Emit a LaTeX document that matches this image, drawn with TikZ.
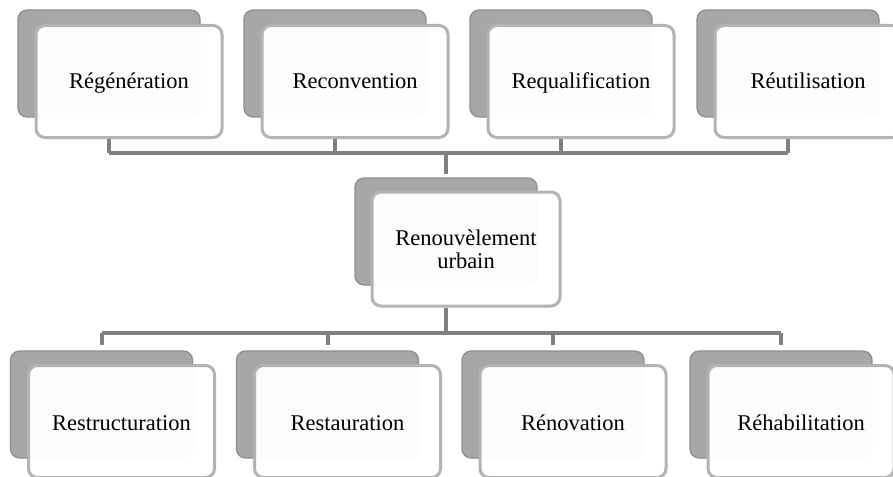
\documentclass[tikz,border=0pt]{standalone}
\usepackage{fontspec}
\setmainfont{Liberation Serif}
\definecolor{backfill}{HTML}{A9A6A6}
\definecolor{backdraw}{HTML}{8F8C8C}
\definecolor{frontdraw}{HTML}{B3B3B3}
\definecolor{conncol}{HTML}{808080}
\begin{document}
\begin{tikzpicture}[x=1pt,y=-1pt,
  backbox/.style={rectangle, rounded corners=9pt, fill=backfill, draw=backdraw, line width=1.2pt,
    minimum width=182pt, minimum height=107pt, inner sep=0pt},
  frontbox/.style={rectangle, rounded corners=9pt, fill=white, fill opacity=0.97, text opacity=1,
    draw=frontdraw, line width=3pt, minimum width=186pt, minimum height=112pt, inner sep=0pt,
    font=\fontsize{22.5}{23}\selectfont},
  toprow/.style={frontbox, text height=16pt, text depth=2.5pt},
  botrow/.style={frontbox, text height=17pt, text depth=0pt},
  conn/.style={draw=conncol, line width=4pt}]
\useasboundingbox (0,0) rectangle (893,476);
\fill[white] (0,0) rectangle (893,476);
% top row
\node[backbox] (b1) at (109,63.5) {};
\node[toprow] (f1) at (129,81.5) {Régénération};
\node[backbox] (b2) at (335,63.5) {};
\node[toprow] (f2) at (355,81.5) {Reconvention};
\node[backbox] (b3) at (561,63.5) {};
\node[toprow] (f3) at (581,81.5) {Requalification};
\node[backbox] (b4) at (788,63.5) {};
\node[toprow] (f4) at (808,81.5) {Réutilisation};
% centre
\node[backbox] (bc) at (446,231.5) {};
\node[frontbox, align=center, minimum width=188pt, minimum height=114pt] (fc) at (466,249) {Renouvèlement\\urbain};
% bottom row
\node[backbox] (d1) at (101.5,404.5) {};
\node[botrow] (e1) at (121.5,421.5) {Restructuration};
\node[backbox] (d2) at (327.5,404.5) {};
\node[botrow] (e2) at (347.5,421.5) {Restauration};
\node[backbox] (d3) at (553,404.5) {};
\node[botrow] (e3) at (573,421.5) {Rénovation};
\node[backbox] (d4) at (781,404.5) {};
\node[botrow] (e4) at (801,421.5) {Réhabilitation};
% buses
\coordinate (bustop) at (446,153);
\coordinate (busbot) at (446,333);
\draw[conn] (b1 |- bustop) -- (b4 |- bustop);
\foreach \i in {1,...,4}{
  \draw[conn] (b\i |- f\i.south) -- (b\i |- bustop);
}
\draw[conn, shorten >=3pt] (bc |- bustop) -- (bc.north);
\draw[conn] (bc |- fc.south) -- (bc |- busbot);
\draw[conn] (d1 |- busbot) -- (d4 |- busbot);
\foreach \i in {1,...,4}{
  \draw[conn, shorten >=5pt] (d\i |- busbot) -- (d\i.north);
}
\end{tikzpicture}
\end{document}
